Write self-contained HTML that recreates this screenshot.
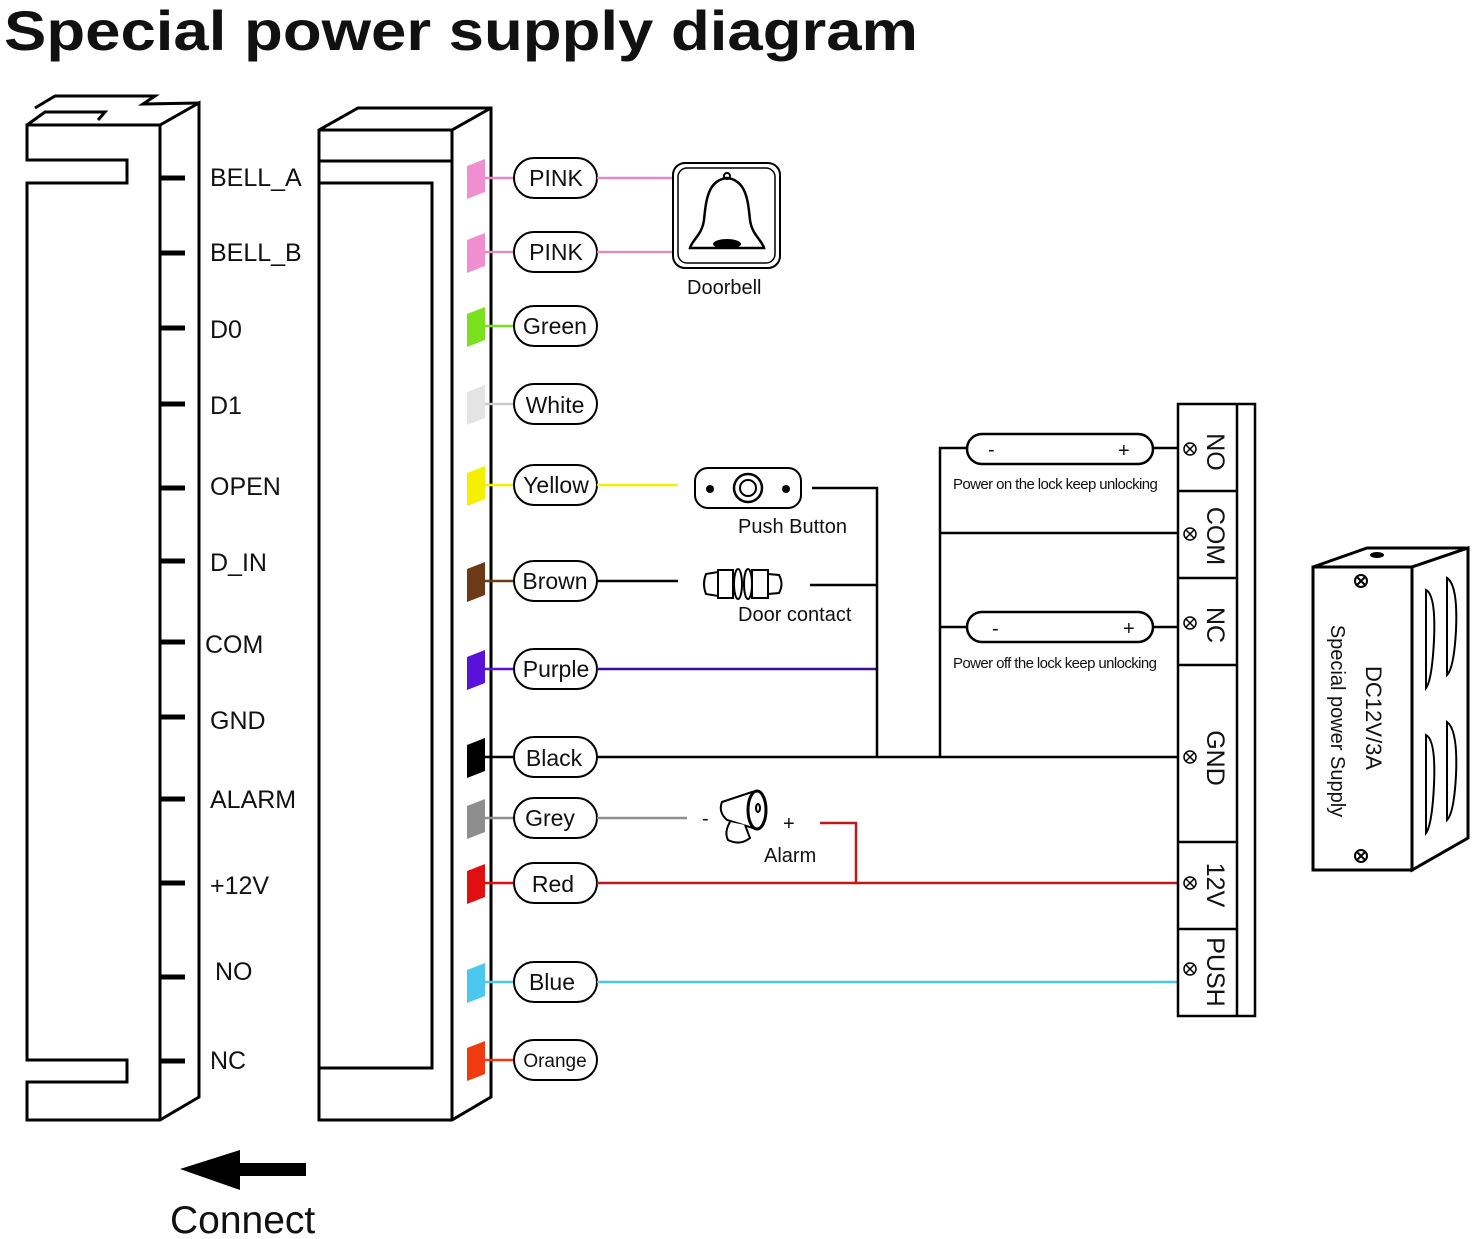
<!DOCTYPE html>
<html><head><meta charset="utf-8"><style>
html,body{margin:0;padding:0;background:#fff}
svg{display:block}
text{font-family:"Liberation Sans",sans-serif;fill:#111}
</style></head><body>
<svg width="1472" height="1239" viewBox="0 0 1472 1239" xmlns="http://www.w3.org/2000/svg">
<text x="4" y="50" font-size="56" font-weight="bold" textLength="914" lengthAdjust="spacingAndGlyphs">Special power supply diagram</text>

<g fill="none" stroke="#000" stroke-width="3">
<path d="M35,108 L55,96 L155,96 L143,104 L199,103"/>
<path d="M27,125 L45,112 L105,112 L98,120"/>
<path d="M27,125 L160,125 L199,103 L199,1097 L160,1120 L27,1120 L27,1082 L127,1082 L127,1060 L27,1060 L27,183 L127,183 L127,160 L27,160 Z"/>
<line x1="160" y1="125" x2="160" y2="1120"/>
<path d="M319,130 L358,108 L491,108 L491,1097 L452,1120 L319,1120 Z"/>
<path d="M319,130 L452,130 L491,108 M452,130 L452,1120"/>
<line x1="319" y1="161" x2="452" y2="161"/>
<path d="M319,183 L432,183 L432,1068 L319,1068"/>
</g>
<g stroke="#000" stroke-width="5">
<line x1="160" y1="178" x2="185" y2="178"/><line x1="160" y1="253" x2="185" y2="253"/>
<line x1="160" y1="328" x2="185" y2="328"/><line x1="160" y1="404" x2="185" y2="404"/>
<line x1="160" y1="488" x2="185" y2="488"/><line x1="160" y1="561" x2="185" y2="561"/>
<line x1="160" y1="642" x2="185" y2="642"/><line x1="160" y1="717" x2="185" y2="717"/>
<line x1="160" y1="799" x2="185" y2="799"/><line x1="160" y1="883" x2="185" y2="883"/>
<line x1="160" y1="977" x2="185" y2="977"/><line x1="160" y1="1061" x2="185" y2="1061"/>
</g>
<g font-size="25">
<text x="210" y="186">BELL_A</text><text x="210" y="261">BELL_B</text>
<text x="210" y="338">D0</text><text x="210" y="414">D1</text>
<text x="210" y="495">OPEN</text><text x="210" y="571">D_IN</text>
<text x="205" y="653">COM</text><text x="210" y="729">GND</text>
<text x="210" y="808">ALARM</text><text x="210" y="894">+12V</text>
<text x="215" y="980">NO</text><text x="210" y="1069">NC</text>
</g>

<g stroke-width="0">
<path d="M467,166 L485,159 L485,192 L467,199 Z" fill="#f08fcf"/>
<path d="M467,240 L485,233 L485,266 L467,273 Z" fill="#f08fcf"/>
<path d="M467,314 L485,307 L485,340 L467,347 Z" fill="#7be01f"/>
<path d="M467,392 L485,385 L485,418 L467,425 Z" fill="#e4e4e4"/>
<path d="M467,473 L485,466 L485,499 L467,506 Z" fill="#f5f000"/>
<path d="M467,569 L485,562 L485,595 L467,602 Z" fill="#6b3a16"/>
<path d="M467,657 L485,650 L485,683 L467,690 Z" fill="#5a12d8"/>
<path d="M467,745 L485,738 L485,771 L467,778 Z" fill="#000"/>
<path d="M467,806 L485,799 L485,832 L467,839 Z" fill="#8e8e8e"/>
<path d="M467,871 L485,864 L485,897 L467,904 Z" fill="#e01010"/>
<path d="M467,970 L485,963 L485,996 L467,1003 Z" fill="#4cc8ee"/>
<path d="M467,1048 L485,1041 L485,1074 L467,1081 Z" fill="#f03a10"/>
</g>
<g stroke-width="2.5">
<line x1="485" y1="178" x2="514" y2="178" stroke="#e08cc4"/>
<line x1="485" y1="252" x2="514" y2="252" stroke="#e08cc4"/>
<line x1="485" y1="326" x2="514" y2="326" stroke="#7be01f"/>
<line x1="485" y1="404" x2="514" y2="404" stroke="#ccc"/>
<line x1="485" y1="485" x2="514" y2="485" stroke="#f5f000"/>
<line x1="485" y1="581" x2="514" y2="581" stroke="#6b3a16"/>
<line x1="485" y1="669" x2="514" y2="669" stroke="#5a12d8"/>
<line x1="485" y1="757" x2="514" y2="757" stroke="#000"/>
<line x1="485" y1="818" x2="514" y2="818" stroke="#8e8e8e"/>
<line x1="485" y1="883" x2="514" y2="883" stroke="#e01010"/>
<line x1="485" y1="982" x2="514" y2="982" stroke="#4cc8ee"/>
<line x1="485" y1="1060" x2="514" y2="1060" stroke="#f03a10"/>
</g>
<g fill="#fff" stroke="#000" stroke-width="2">
<rect x="514" y="158" width="83" height="40" rx="20"/><rect x="514" y="232" width="83" height="40" rx="20"/>
<rect x="514" y="306" width="83" height="40" rx="20"/><rect x="514" y="384" width="83" height="40" rx="20"/>
<rect x="514" y="465" width="83" height="40" rx="20"/><rect x="514" y="561" width="83" height="40" rx="20"/>
<rect x="514" y="649" width="83" height="40" rx="20"/><rect x="514" y="737" width="83" height="40" rx="20"/>
<rect x="514" y="798" width="83" height="40" rx="20"/><rect x="514" y="863" width="83" height="40" rx="20"/>
<rect x="514" y="962" width="83" height="40" rx="20"/><rect x="514" y="1040" width="83" height="40" rx="20"/>
</g>
<g font-size="23" text-anchor="middle">
<text x="556" y="186">PINK</text><text x="556" y="260">PINK</text>
<text x="555" y="334">Green</text><text x="555" y="413">White</text>
<text x="556" y="493">Yellow</text><text x="555" y="589">Brown</text>
<text x="556" y="677">Purple</text><text x="554" y="766">Black</text>
<text x="550" y="826">Grey</text><text x="553" y="892">Red</text>
<text x="552" y="990">Blue</text><text x="555" y="1067" font-size="19">Orange</text>
</g>

<g fill="none" stroke-width="2.5">
<line x1="597" y1="178" x2="673" y2="178" stroke="#e08cc4"/>
<line x1="597" y1="252" x2="673" y2="252" stroke="#e08cc4"/>
<line x1="597" y1="485" x2="678" y2="485" stroke="#f5f000"/>
<line x1="597" y1="581" x2="678" y2="581" stroke="#000"/>
<line x1="597" y1="669" x2="876" y2="669" stroke="#3a1090"/>
<line x1="597" y1="818" x2="687" y2="818" stroke="#8e8e8e"/>
<line x1="597" y1="883" x2="1178" y2="883" stroke="#c01818"/>
<path d="M820,823 L856,823 L856,883" stroke="#c01818"/>
<line x1="597" y1="982" x2="1178" y2="982" stroke="#4cc8e0"/>
<g stroke="#000">
<line x1="597" y1="757" x2="1178" y2="757"/>
<path d="M812,488 L877,488 L877,757"/>
<path d="M810,585 L877,585"/>
<path d="M940,757 L940,448 L967,448 M1153,448 L1178,448"/>
<line x1="940" y1="533" x2="1178" y2="533"/>
<path d="M940,627 L967,627 M1153,627 L1178,627"/>
<rect x="967" y="434" width="186" height="30" rx="15"/>
<rect x="967" y="612" width="186" height="30" rx="15"/>
</g>
</g>
<g font-size="20"><text x="988" y="456">-</text><text x="1118" y="457">+</text>
<text x="992" y="635">-</text><text x="1123" y="635">+</text></g>
<g font-size="15" letter-spacing="-0.6">
<text x="953" y="489">Power on the lock keep unlocking</text>
<text x="953" y="668">Power off the lock keep unlocking</text>
</g>

<rect x="673" y="163" width="107" height="105" rx="12" fill="#fff" stroke="#000" stroke-width="2"/>
<rect x="678" y="168" width="97" height="95" rx="9" fill="none" stroke="#000" stroke-width="1.5"/>
<path d="M727,178 C708,180 706,200 704,220 C702,235 692,240 690,248 L764,248 C762,240 752,235 750,220 C748,200 746,180 727,178 Z" fill="#fff" stroke="#000" stroke-width="2.5"/>
<ellipse cx="727" cy="244" rx="14" ry="5" fill="#000"/>
<circle cx="727" cy="176" r="3" fill="none" stroke="#000" stroke-width="2"/>
<text x="687" y="294" font-size="20">Doorbell</text>

<rect x="695" y="468" width="106" height="40" rx="13" fill="#fff" stroke="#000" stroke-width="2"/>
<circle cx="710" cy="489" r="4" fill="#000"/><circle cx="786" cy="489" r="4" fill="#000"/>
<circle cx="748" cy="488" r="14" fill="none" stroke="#000" stroke-width="2.5"/>
<circle cx="748" cy="488" r="8" fill="none" stroke="#000" stroke-width="2"/>
<text x="738" y="533" font-size="20">Push Button</text>
<g fill="#fff" stroke="#000" stroke-width="2">
<path d="M706,574 L718,572 L718,596 L706,594 Q702,584 706,574 Z"/>
<rect x="718" y="570" width="15" height="28"/>
<ellipse cx="738" cy="584" rx="4" ry="15"/><ellipse cx="748" cy="584" rx="4" ry="15"/>
<rect x="752" y="570" width="16" height="28"/>
<path d="M768,574 L779,575 Q784,584 779,593 L768,594 Z"/>
</g>
<text x="738" y="621" font-size="20">Door contact</text>
<text x="702" y="825" font-size="20">-</text>
<g fill="#fff" stroke="#000" stroke-width="2">
<path d="M722,802 L752,792 L756,829 L727,820 Q718,812 722,802 Z"/>
<ellipse cx="757" cy="810" rx="9" ry="19" stroke-width="3"/>
<ellipse cx="758" cy="808" rx="2" ry="4"/>
<path d="M730,822 Q724,832 728,840 Q740,846 750,838 L745,825"/>
</g>
<text x="783" y="830" font-size="20">+</text>
<text x="764" y="862" font-size="20">Alarm</text>

<g fill="none" stroke="#000" stroke-width="2.5">
<rect x="1178" y="404" width="77" height="612"/>
<line x1="1237" y1="404" x2="1237" y2="1016"/>
<line x1="1178" y1="491" x2="1237" y2="491"/><line x1="1178" y1="578" x2="1237" y2="578"/>
<line x1="1178" y1="665" x2="1237" y2="665"/><line x1="1178" y1="842" x2="1237" y2="842"/>
<line x1="1178" y1="929" x2="1237" y2="929"/>
</g>
<g fill="none" stroke="#000" stroke-width="1.5">
<circle cx="1190" cy="449" r="6"/><circle cx="1190" cy="534" r="6"/><circle cx="1190" cy="623" r="6"/>
<circle cx="1190" cy="757" r="6"/><circle cx="1190" cy="883" r="6"/><circle cx="1190" cy="969" r="6"/>
<path d="M1186,445 l8,8 M1194,445 l-8,8 M1186,530 l8,8 M1194,530 l-8,8 M1186,619 l8,8 M1194,619 l-8,8 M1186,753 l8,8 M1194,753 l-8,8 M1186,879 l8,8 M1194,879 l-8,8 M1186,965 l8,8 M1194,965 l-8,8"/>
</g>
<g font-size="25" text-anchor="middle">
<text transform="translate(1207,452) rotate(90)">NO</text>
<text transform="translate(1207,536) rotate(90)">COM</text>
<text transform="translate(1207,625) rotate(90)">NC</text>
<text transform="translate(1207,758) rotate(90)">GND</text>
<text transform="translate(1207,885) rotate(90)">12V</text>
<text transform="translate(1207,972) rotate(90)">PUSH</text>
</g>

<g fill="#fff" stroke="#000" stroke-width="3">
<path d="M1313,567 L1367,548 L1468,548 L1412,567 Z"/>
<path d="M1412,567 L1468,548 L1468,838 L1412,870 Z"/>
<rect x="1313" y="567" width="99" height="303"/>
</g>
<ellipse cx="1377" cy="555" rx="7" ry="3" fill="#000"/>
<g fill="none" stroke="#000" stroke-width="2">
<path d="M1426,590 Q1436,595 1434,640 Q1432,680 1426,688 Z"/>
<path d="M1447,578 Q1458,585 1456,630 Q1454,668 1447,675 Z"/>
<path d="M1426,735 Q1436,740 1434,785 Q1432,825 1426,833 Z"/>
<path d="M1447,722 Q1458,730 1456,775 Q1454,813 1447,820 Z"/>
<circle cx="1361" cy="581" r="6"/><circle cx="1361" cy="856" r="6"/>
<path d="M1357,577 l8,8 M1365,577 l-8,8 M1357,852 l8,8 M1365,852 l-8,8"/>
</g>
<text transform="translate(1366,718) rotate(90)" font-size="22" text-anchor="middle">DC12V/3A</text>
<text transform="translate(1331,721) rotate(90)" font-size="20" text-anchor="middle">Special power Supply</text>

<rect x="230" y="1163" width="76" height="13" fill="#000"/>
<path d="M180,1169 L240,1150 L240,1190 Z" fill="#000"/>
<text x="170" y="1233" font-size="39">Connect</text>
</svg>
</body></html>
